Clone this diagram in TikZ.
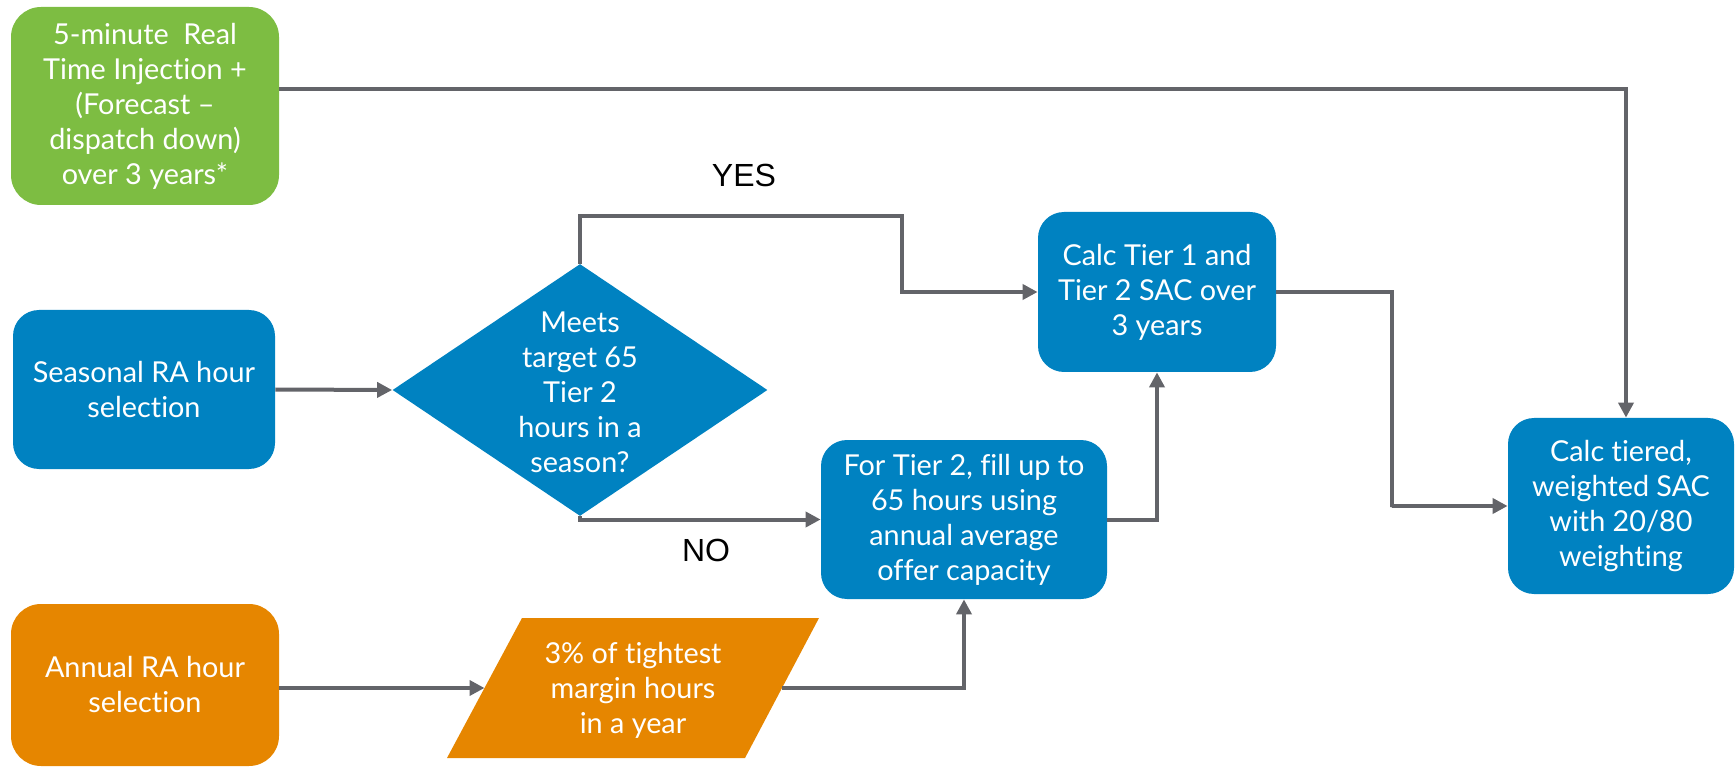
\documentclass[tikz,border=0pt]{standalone}
\usepackage{fontspec}
\setmainfont{Lato}[Ligatures=NoCommon]
\newfontfamily\labfont{Liberation Sans}
\usetikzlibrary{shapes.geometric,arrows.meta}
\definecolor{cgreen}{HTML}{7DBD42}
\definecolor{cblue}{HTML}{0082C1}
\definecolor{corange}{HTML}{E68600}
\definecolor{cgray}{HTML}{636469}
\tikzset{
  txt/.style={text=white, align=center, font=\fontsize{14.4}{17.5}\selectfont, inner sep=0pt},
  rbox/.style={txt, rounded corners=13pt},
  gbox/.style={rbox, fill=cgreen, rounded corners=15pt},
  bbox/.style={rbox, fill=cblue},
  obox/.style={rbox, fill=corange, rounded corners=15pt},
  dia/.style={diamond, fill=cblue, inner sep=0pt},
  arr/.style={draw=cgray, line width=2pt, -{Triangle[length=7.5pt,width=7.5pt]}},
  lab/.style={font=\labfont\fontsize{16}{19}\selectfont, text=black, inner sep=0pt}
}
\begin{document}
\begin{tikzpicture}[x=0.5pt,y=-0.5pt]
\useasboundingbox (0,0) rectangle (1736,770);
\node[gbox, minimum width=134pt, minimum height=99pt] (inj) at (145,106) {5-minute\ \ Real\\Time Injection +\\(Forecast --\\dispatch down)\\over 3 years*};
\node[bbox, minimum width=131pt, minimum height=79.5pt] (sea) at (144,389.5) {Seasonal RA hour\\selection};
\node[obox, minimum width=134pt, minimum height=81pt] (ann) at (145,685) {Annual RA hour\\selection};
\node[dia, minimum width=187.5pt, minimum height=126pt] (dia) at (580,390) {};
\node[txt] (diat) at (580,392) {Meets\\target 65\\Tier 2\\hours in a\\season?};
\fill[corange] (447,758) -- (522,618) -- (819,618) -- (745,758) -- cycle;
\coordinate (parw) at (484.5,688);
\coordinate (pare) at (782,688);
\node[txt] (part) at (633,690) {3\% of tightest\\margin hours\\in a year};
\node[bbox, minimum width=119pt, minimum height=80pt] (t1) at (1157,292) {Calc Tier 1 and\\Tier 2 SAC over\\3 years};
\node[bbox, minimum width=143pt, minimum height=79.5pt] (fill) at (964,519.5) {For Tier 2, fill up to\\65 hours using\\annual average\\offer capacity};
\node[bbox, minimum width=113pt, minimum height=88pt] (fin) at (1621,506) {Calc tiered,\\weighted SAC\\with 20/80\\weighting};
\node[lab] (yes) at (744,175) {YES};
\node[lab] (no) at (706,550) {NO};
\coordinate (k1) at (902,216);
\coordinate (k2) at (1392,507);
\draw[arr] ([yshift=8.5pt]inj.east) -| ([xshift=2.5pt]fin.north);
\draw[arr] (sea.east) -- (dia.west);
\draw[arr] (dia.north) |- (k1) |- (t1.west);
\draw[arr] (dia.south) |- (fill.west);
\draw[arr] (ann.east |- parw) -- (parw);
\draw[arr] (pare) -| (fill.south);
\draw[arr] (fill.east) -| (t1.south);
\draw[arr] (t1.east) -| (k2) |- (fin.west);
\end{tikzpicture}
\end{document}
